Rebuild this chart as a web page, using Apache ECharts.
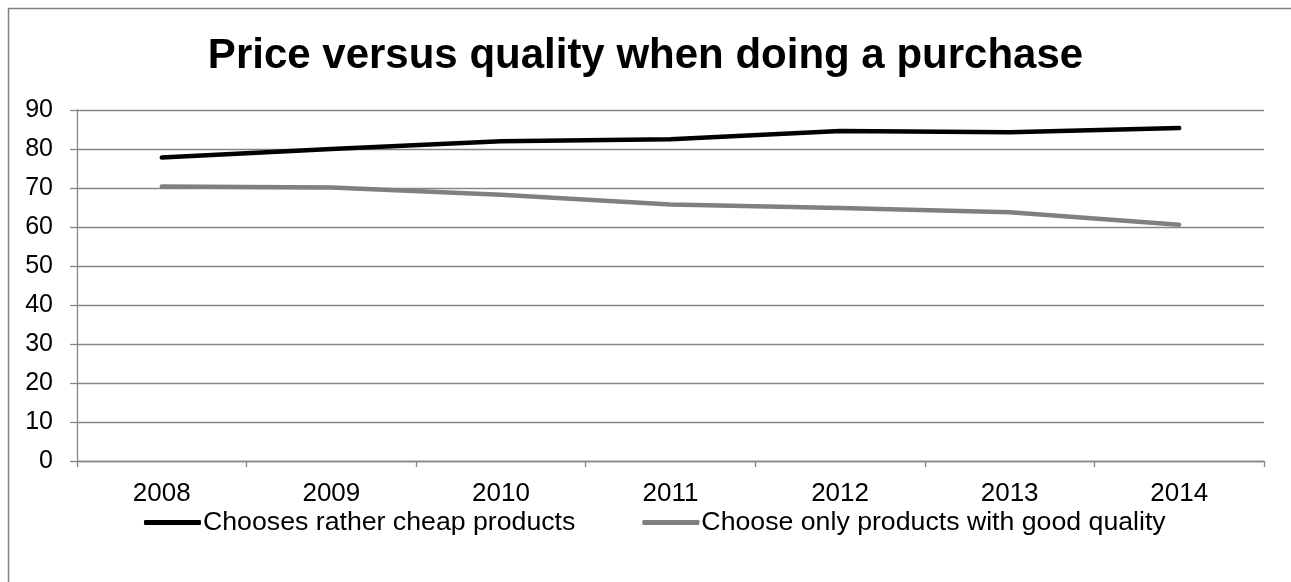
<!DOCTYPE html>
<html>
<head>
<meta charset="utf-8">
<script src="https://cdn.jsdelivr.net/npm/echarts@6/dist/echarts.min.js"></script>
<style>
  html, body { margin: 0; padding: 0; background: #fff; }
  #chart { width: 1291px; height: 582px; }
</style>
</head>
<body>
<div id="chart"></div>
<script>
// Survey years
const years = ['2008', '2009', '2010', '2011', '2012', '2013', '2014'];
// Share of respondents (%)
const cheapProducts = [77.8, 80.0, 82.0, 82.5, 84.6, 84.3, 85.4];
const qualityProducts = [70.4, 70.1, 68.3, 65.8, 64.9, 63.8, 60.6];
const seriesNames = ['Chooses rather cheap products', 'Choose only products with good quality'];
const titleText = 'Price versus quality when doing a purchase';

const fontFamily = 'Arial, "Liberation Sans", sans-serif';
const axisGray = '#868686';

const chart = echarts.init(document.getElementById('chart'), null, { renderer: 'canvas' });
chart.setOption({
  animation: false,
  backgroundColor: '#ffffff',
  graphic: [{
    type: 'rect',
    shape: { x: 8.5, y: 8.5, width: 1400, height: 700 },
    style: { fill: 'none', stroke: '#808080', lineWidth: 1.5 },
    silent: true
  }],
  title: {
    text: titleText,
    left: 'center',
    top: 30,
    textStyle: { fontFamily, fontSize: 42, fontWeight: 'bold', color: '#000' }
  },
  legend: {
    left: 139,
    top: 504,
    itemWidth: 57,
    itemHeight: 5,
    itemGap: 67,
    icon: 'roundRect',
    textStyle: { fontFamily, fontSize: 26.7, color: '#000', padding: [0, 0, 0, -3] },
    data: seriesNames
  },
  grid: { left: 77, right: 27, top: 110, bottom: 121, containLabel: false },
  xAxis: {
    type: 'category',
    data: years,
    boundaryGap: true,
    axisLine: { lineStyle: { color: axisGray, width: 1.3 } },
    axisTick: { show: true, length: 6, lineStyle: { color: axisGray, width: 1.3 } },
    axisLabel: { fontFamily, fontSize: 26, color: '#000', margin: 20 }
  },
  yAxis: {
    type: 'value',
    min: 0,
    max: 90,
    interval: 10,
    axisLine: { show: true, lineStyle: { color: axisGray, width: 1.3 } },
    axisTick: { show: true, length: 7, lineStyle: { color: axisGray, width: 1.3 } },
    axisLabel: { fontFamily, fontSize: 25, color: '#000', margin: 24 },
    splitLine: { show: true, lineStyle: { color: axisGray, width: 1.3 } }
  },
  series: [
    {
      name: seriesNames[0],
      type: 'line',
      data: cheapProducts,
      showSymbol: false,
      symbol: 'none',
      color: '#000000',
      lineStyle: { color: '#000000', width: 4.5, cap: 'round', join: 'round' }
    },
    {
      name: seriesNames[1],
      type: 'line',
      data: qualityProducts,
      showSymbol: false,
      symbol: 'none',
      color: '#808080',
      lineStyle: { color: '#808080', width: 4.5, cap: 'round', join: 'round' }
    }
  ]
});
</script>
</body>
</html>
